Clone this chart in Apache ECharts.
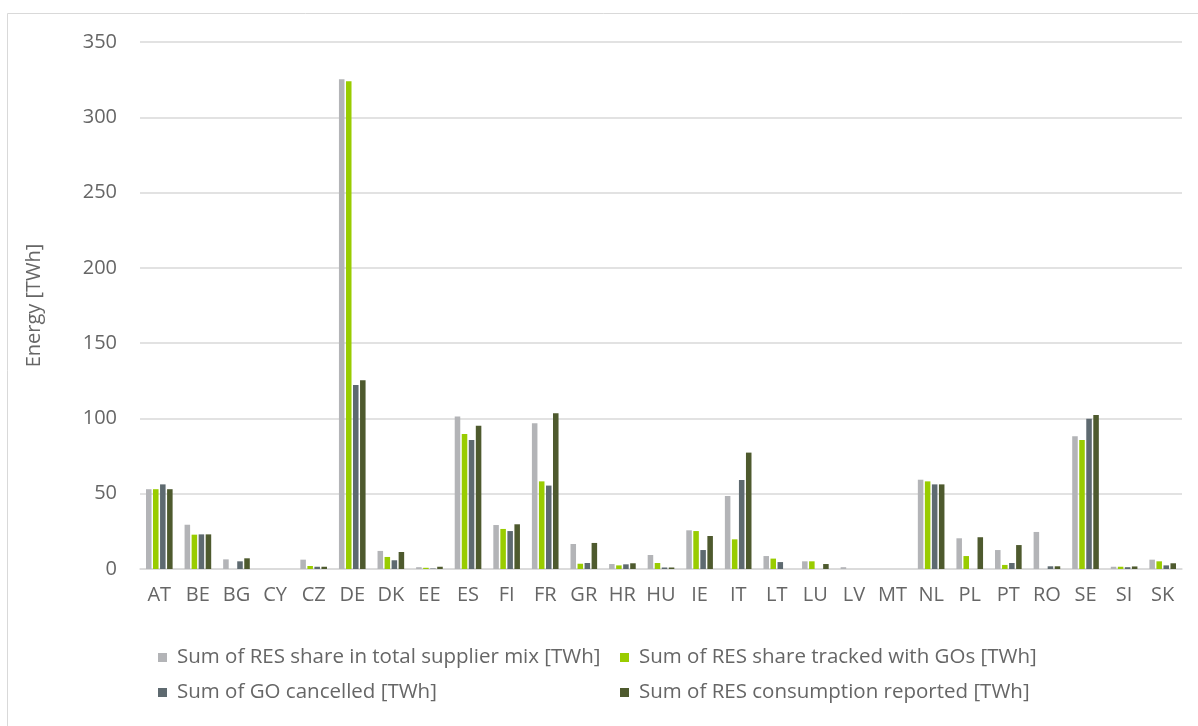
<!DOCTYPE html>
<html>
<head>
<meta charset="utf-8">
<script src="https://cdn.jsdelivr.net/npm/echarts@6/dist/echarts.min.js"></script>
<style>
  html, body { margin: 0; padding: 0; background: #ffffff; }
  #chart { width: 1198px; height: 726px; }
</style>
</head>
<body>
<div id="chart"></div>
<script>
// Country codes on the category axis
const countries = ['AT','BE','BG','CY','CZ','DE','DK','EE','ES','FI','FR','GR','HR','HU','IE','IT','LT','LU','LV','MT','NL','PL','PT','RO','SE','SI','SK'];

// Energy values per country [TWh]
const resSupplierMix = [53, 29.4, 6.4, 0, 6.2, 325.2, 12, 1.2, 101.2, 29.2, 96.8, 16.6, 3.3, 9.3, 25.7, 48.5, 8.6, 5.1, 1.2, 0, 59.3, 20.4, 12.6, 24.6, 88.1, 1.5, 6.2];
const resTrackedGOs  = [53, 22.8, 0, 0, 2, 323.9, 8, 0.8, 89.7, 26.6, 58.2, 3.5, 2.4, 4, 25.2, 19.7, 6.9, 5.1, 0, 0, 58.2, 8.6, 2.7, 0, 85.7, 1.5, 5.1];
const goCancelled    = [56.2, 23, 5.1, 0, 1.5, 122.2, 5.8, 0.3, 85.7, 25.2, 55.4, 4, 3.1, 1, 12.6, 59.1, 4.6, 0, 0, 0, 56.2, 0, 4, 1.8, 99.8, 1.2, 2.4];
const resConsumption = [53, 23, 7.1, 0, 1.5, 125.3, 11.3, 1.5, 95.2, 29.7, 103.4, 17.3, 3.8, 1, 21.9, 77.3, 0, 3.3, 0, 0, 56.2, 21.1, 15.9, 1.8, 102.3, 1.7, 3.8];

// Value axis ticks
const yTicks = [0, 50, 100, 150, 200, 250, 300, 350];

const seriesNames = [
  'Sum of RES share in total supplier mix [TWh]',
  'Sum of RES share tracked with GOs [TWh]',
  'Sum of GO cancelled [TWh]',
  'Sum of RES consumption reported [TWh]'
];
const seriesData = [resSupplierMix, resTrackedGOs, goCancelled, resConsumption];
const seriesColors = ['#b3b4b7', '#99cc00', '#5e6a70', '#4e5a2e'];

const textColor = '#666666';
const fontFamily = '"Open Sans", sans-serif';

const chart = echarts.init(document.getElementById('chart'), null, { renderer: 'canvas' });

const legendStyle = {
  orient: 'vertical',
  top: 642,
  itemWidth: 9, itemHeight: 9, itemGap: 14,
  icon: 'rect',
  textStyle: { color: textColor, fontSize: 20.5, fontFamily: fontFamily, padding: [0, 0, 0, 5] }
};

chart.setOption({
  animation: false,
  backgroundColor: '#ffffff',
  textStyle: { fontFamily: fontFamily },
  graphic: [{
    type: 'rect',
    shape: { x: 7.5, y: 13.5, width: 1200, height: 730 },
    style: { fill: 'none', stroke: '#d9d9d9', lineWidth: 1 },
    silent: true
  }],
  grid: { left: 140, right: 16, top: 42, bottom: 157, containLabel: false },
  legend: [
    Object.assign({ data: [seriesNames[0], seriesNames[2]], left: 153 }, legendStyle),
    Object.assign({ data: [seriesNames[1], seriesNames[3]], left: 615 }, legendStyle)
  ],
  xAxis: {
    type: 'category',
    data: countries,
    axisLine: { show: true, lineStyle: { color: '#d9d9d9', width: 1.5 } },
    axisTick: { show: false },
    axisLabel: { color: textColor, fontSize: 20, margin: 16, fontFamily: fontFamily, interval: 0 }
  },
  yAxis: {
    type: 'value',
    min: yTicks[0],
    max: yTicks[yTicks.length - 1],
    interval: yTicks[1] - yTicks[0],
    name: 'Energy [TWh]',
    nameLocation: 'middle',
    nameGap: 96,
    nameRotate: 90,
    nameTextStyle: { color: textColor, fontSize: 20, fontFamily: fontFamily },
    axisLine: { show: false },
    axisTick: { show: false },
    axisLabel: { color: textColor, fontSize: 20, margin: 23, fontFamily: fontFamily },
    splitLine: { lineStyle: { color: '#d9d9d9', width: 1.5 } }
  },
  series: seriesNames.map((name, i) => ({
    name: name,
    type: 'bar',
    data: seriesData[i],
    barCategoryGap: '31%',
    barGap: '27%',
    itemStyle: { color: seriesColors[i] }
  }))
});
</script>
</body>
</html>
